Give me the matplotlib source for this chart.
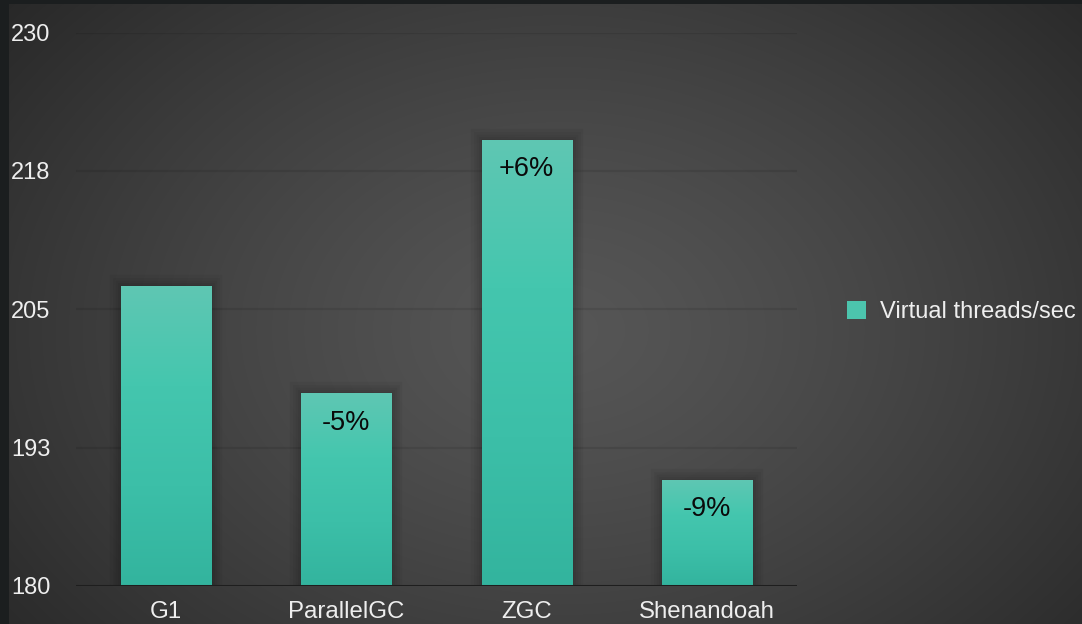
import numpy as np
import matplotlib
matplotlib.use("Agg")
import matplotlib.pyplot as plt
import matplotlib.patheffects as pe
from matplotlib.colors import LinearSegmentedColormap

# Data
collectors = ["G1", "ParallelGC", "ZGC", "Shenandoah"]
threads_per_sec = [207.1, 197.4, 220.3, 189.6]
change_labels = ["", "-5%", "+6%", "-9%"]
series_name = "Virtual threads/sec"
y_ticks = [180, 192.5, 205, 217.5, 230]
y_tick_labels = ["180", "193", "205", "218", "230"]

W, H, DPI = 1082, 624, 100
plt.rcParams["font.family"] = ["Liberation Sans", "DejaVu Sans"]

fig = plt.figure(figsize=(W / DPI, H / DPI), dpi=DPI)
fig.patch.set_facecolor("#1b1e1f")

# Radial-lit dark backdrop
bg = fig.add_axes([9 / W, 0, 1 - 9 / W, (H - 4) / H])
bg.set_axis_off()
yy, xx = np.mgrid[0:H - 4, 9:W]
yy = yy + 4
r = np.sqrt(((xx - 560) / 720.0) ** 2 + ((yy - 330) / 520.0) ** 2)
r = np.clip(r, 0, 1)
lum = (86 - (86 - 40) * r ** 1.3) / 255.0
bg.imshow(np.dstack([lum, lum, lum]), aspect="auto", extent=(0, 1, 0, 1), origin="upper")
bg.set_xlim(0, 1)
bg.set_ylim(0, 1)

ax = fig.add_axes([76 / W, 1 - 586 / H, (797 - 76) / W, (586 - 32.5) / H])
ax.patch.set_alpha(0)
ax.set_xlim(-0.5, 3.5)
ax.set_ylim(180, 230)

x = np.arange(len(collectors))
shadow = [pe.Stroke(linewidth=lw, foreground="black", alpha=0.045) for lw in (16, 12, 8, 5, 2)]
bars = ax.bar(x, [v - 180 for v in threads_per_sec], bottom=180, width=0.5,
              color="#45c4ad", linewidth=0, label=series_name, zorder=3)

bar_cmap = LinearSegmentedColormap.from_list(
    "teal", ["#5fc7b3", "#44c6ae", "#3cbfa8", "#33b49e"])
grad = np.linspace(0, 1, 256).reshape(-1, 1)
for b in bars:
    b.set_path_effects(shadow + [pe.Normal()])
    x0, y0 = b.get_x(), b.get_y()
    im = ax.imshow(grad, cmap=bar_cmap, aspect="auto", origin="upper",
                   extent=(x0, x0 + b.get_width(), y0, y0 + b.get_height()), zorder=4)
    im.set_clip_path(b)

for b, lab in zip(bars, change_labels):
    if lab:
        ax.annotate(lab, (b.get_x() + b.get_width() / 2, b.get_y() + b.get_height()),
                    xytext=(0, -21), textcoords="offset points", ha="center", va="center",
                    fontsize=19.5, color="#0a0a0a", zorder=6)

ax.set_xlim(-0.5, 3.5)
ax.set_ylim(180, 230)

# Grid and axis
for yt in y_ticks[1:]:
    ax.axhline(yt, color="#000000", alpha=0.09, linewidth=1.6, zorder=1)
ax.axhline(180, color="#1e1e1e", linewidth=2.2, zorder=5)
for s in ax.spines.values():
    s.set_visible(False)

ax.set_yticks(y_ticks)
ax.set_yticklabels(y_tick_labels)
ax.tick_params(axis="y", length=0, pad=65 * 72 / DPI, labelsize=17, labelcolor="#eeeeee")
for t in ax.get_yticklabels():
    t.set_horizontalalignment("left")
ax.set_xticks(x)
ax.set_xticklabels(collectors)
ax.tick_params(axis="x", length=0, pad=11, labelsize=17.3, labelcolor="#eeeeee")

leg = fig.legend(handles=[bars], labels=[series_name], loc="center left",
                 bbox_to_anchor=(847 / W, 1 - 312 / H), frameon=False,
                 borderpad=0, borderaxespad=0, handlelength=0.8, handleheight=0.8,
                 handletextpad=0.58, fontsize=17)
for t in leg.get_texts():
    t.set_color("#eeeeee")
for h in leg.legend_handles:
    h.set_path_effects([])
    h.set_facecolor("#4cc4ad")

fig.savefig("out.png", dpi=DPI, facecolor=fig.get_facecolor())
